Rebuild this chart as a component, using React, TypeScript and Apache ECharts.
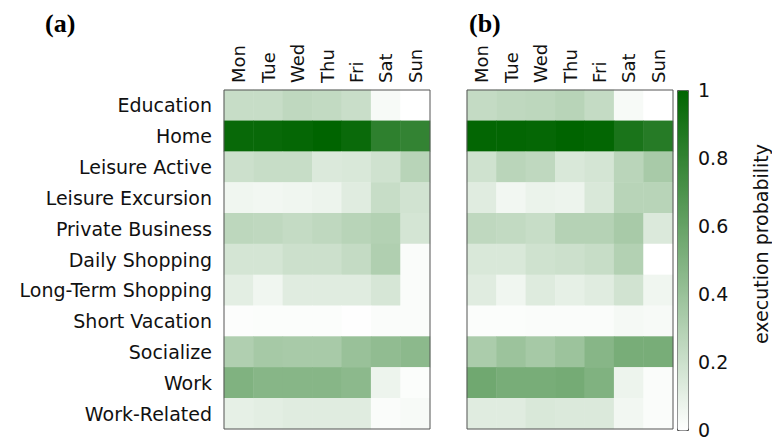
import React, { useEffect, useRef } from "react";
import * as echarts from "echarts";

const days = ["Mon", "Tue", "Wed", "Thu", "Fri", "Sat", "Sun"];
const activities = [
  "Education",
  "Home",
  "Leisure Active",
  "Leisure Excursion",
  "Private Business",
  "Daily Shopping",
  "Long-Term Shopping",
  "Short Vacation",
  "Socialize",
  "Work",
  "Work-Related",
];

// panel (a): rows follow activities, columns follow days
const panelA: number[][] = [
  [0.22, 0.22, 0.25, 0.24, 0.21, 0.03, 0.0],
  [0.97, 0.97, 0.98, 1.0, 0.96, 0.82, 0.8],
  [0.2, 0.22, 0.22, 0.14, 0.15, 0.19, 0.28],
  [0.06, 0.05, 0.06, 0.07, 0.12, 0.22, 0.18],
  [0.26, 0.25, 0.23, 0.25, 0.28, 0.3, 0.17],
  [0.17, 0.17, 0.2, 0.2, 0.23, 0.31, 0.02],
  [0.11, 0.06, 0.12, 0.12, 0.12, 0.16, 0.02],
  [0.01, 0.015, 0.015, 0.015, 0.005, 0.02, 0.02],
  [0.31, 0.35, 0.34, 0.34, 0.4, 0.43, 0.45],
  [0.5, 0.47, 0.47, 0.47, 0.45, 0.07, 0.015],
  [0.1, 0.11, 0.12, 0.12, 0.12, 0.02, 0.03],
];

// panel (b)
const panelB: number[][] = [
  [0.23, 0.25, 0.26, 0.28, 0.23, 0.03, 0.0],
  [0.99, 0.99, 0.98, 1.0, 0.99, 0.9, 0.85],
  [0.19, 0.27, 0.25, 0.15, 0.17, 0.27, 0.34],
  [0.12, 0.05, 0.08, 0.07, 0.15, 0.28, 0.28],
  [0.25, 0.24, 0.22, 0.29, 0.29, 0.34, 0.14],
  [0.15, 0.15, 0.19, 0.2, 0.22, 0.3, 0.0],
  [0.12, 0.06, 0.13, 0.1, 0.12, 0.18, 0.06],
  [0.015, 0.015, 0.02, 0.02, 0.02, 0.04, 0.03],
  [0.33, 0.39, 0.35, 0.39, 0.47, 0.53, 0.53],
  [0.56, 0.53, 0.53, 0.54, 0.5, 0.07, 0.02],
  [0.12, 0.12, 0.15, 0.14, 0.14, 0.05, 0.02],
];

const colorbarTicks = { min: 0, max: 1, interval: 0.2 };
const panelTitles = ["(a)", "(b)"];
const colorbarLabel = "execution probability";

const FONT = "DejaVu Sans";

function toCells(m: number[][]) {
  const out: [number, number, number][] = [];
  m.forEach((row, r) => row.forEach((v, c) => out.push([c, r, v])));
  return out;
}

export default function App() {
  const ref = useRef<HTMLDivElement>(null);
  useEffect(() => {
    if (!ref.current) return;
    const chart = echarts.init(ref.current, null, { renderer: "svg" });
    const grids = [
      { left: 224, top: 90, width: 206, height: 339 },
      { left: 467, top: 90, width: 206, height: 339 },
      { left: 677, top: 90, width: 11, height: 340 },
    ];
    const xAxisFor = (gi: number) => ({
      type: "category",
      gridIndex: gi,
      data: days,
      position: "top",
      axisLine: { show: false },
      axisTick: { show: false },
      splitLine: { show: false },
      axisLabel: {
        rotate: -90,
        margin: 7,
        fontFamily: FONT,
        fontSize: 18,
        color: "#111",
      },
    });
    const yAxisFor = (gi: number, showLabels: boolean) => ({
      type: "category",
      gridIndex: gi,
      data: activities,
      inverse: true,
      axisLine: { show: false },
      axisTick: { show: false },
      splitLine: { show: false },
      axisLabel: {
        show: showLabels,
        margin: 12,
        fontFamily: FONT,
        fontSize: 19,
        color: "#111",
        padding: [3, 0, 0, 0],
      },
    });
    const option: any = {
      animation: false,
      backgroundColor: "#ffffff",
      title: panelTitles.map((t, i) => ({
        text: t,
        left: i === 0 ? 45 : 469,
        top: 10,
        padding: 0,
        textStyle: {
          fontFamily: "Liberation Serif",
          fontWeight: "bold",
          fontSize: 26,
          color: "#000",
        },
      })),
      grid: grids.map((g, i) => ({
        ...g,
        show: i < 2,
        borderColor: "#555",
        borderWidth: 1,
        z: 10,
      })),
      xAxis: [
        xAxisFor(0),
        xAxisFor(1),
        { type: "value", gridIndex: 2, show: false },
      ],
      yAxis: [
        yAxisFor(0, true),
        yAxisFor(1, false),
        {
          type: "value",
          gridIndex: 2,
          position: "right",
          min: colorbarTicks.min,
          max: colorbarTicks.max,
          interval: colorbarTicks.interval,
          axisLine: { show: false },
          axisTick: { show: false },
          splitLine: { show: false },
          axisLabel: {
            margin: 10,
            fontFamily: FONT,
            fontSize: 19,
            color: "#111",
          },
          name: colorbarLabel,
          nameLocation: "middle",
          nameGap: 63,
          nameTextStyle: {
            fontFamily: FONT,
            fontSize: 19,
            color: "#111",
            padding: [0, 0, 0, 32],
          },
        },
      ],
      visualMap: {
        type: "continuous",
        min: 0,
        max: 1,
        seriesIndex: [0, 1],
        calculable: false,
        realtime: false,
        orient: "vertical",
        left: 677,
        top: 90,
        itemWidth: 11,
        itemHeight: 340,
        padding: 0,
        text: null,
        showLabel: false,
        borderColor: "#555",
        borderWidth: 1,
        inRange: { color: ["#ffffff", "#006400"] },
      },
      series: [
        {
          type: "heatmap",
          xAxisIndex: 0,
          yAxisIndex: 0,
          data: toCells(panelA),
          itemStyle: { borderWidth: 0 },
        },
        {
          type: "heatmap",
          xAxisIndex: 1,
          yAxisIndex: 1,
          data: toCells(panelB),
          itemStyle: { borderWidth: 0 },
        },
      ],
    };
    chart.setOption(option);
    return () => chart.dispose();
  }, []);
  return (
    <div
      ref={ref}
      style={{ position: "fixed", left: 0, top: 0, width: 772, height: 441 }}
    />
  );
}
